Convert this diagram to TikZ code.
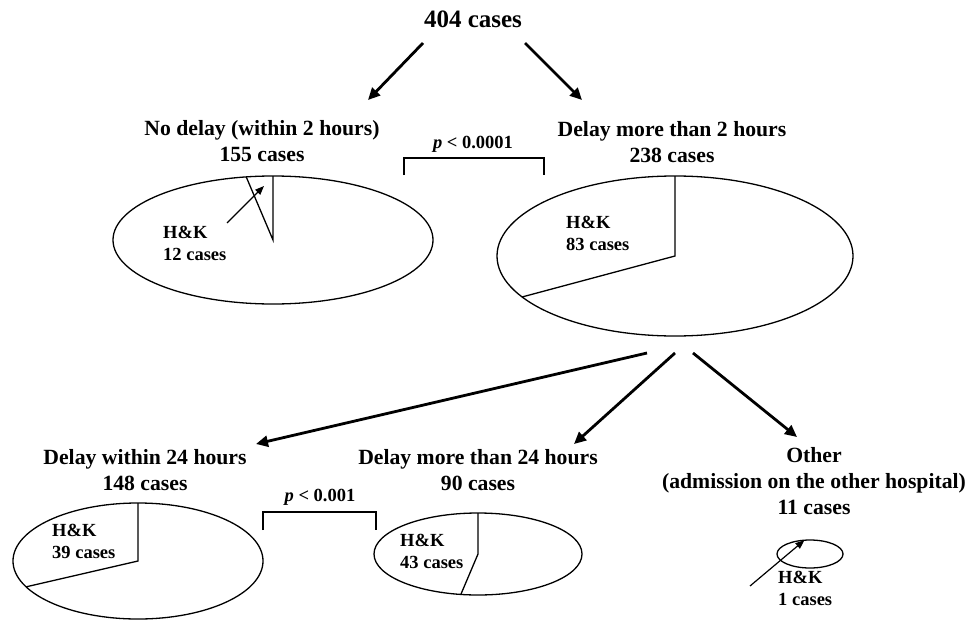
\documentclass[tikz,border=0pt]{standalone}
\usepackage{fontspec}
\setmainfont{Liberation Serif}
\usetikzlibrary{arrows.meta,shapes.geometric}

\tikzset{
  total/.style={font=\fontsize{25}{30}\selectfont\bfseries, inner sep=0pt},
  heading/.style={font=\fontsize{21.7}{26}\selectfont\bfseries, align=center, inner sep=0pt},
  hklabel/.style={font=\fontsize{18.5}{22}\selectfont\bfseries, align=left, anchor=north west, inner sep=0pt},
  plabel/.style={font=\fontsize{18.5}{22}\selectfont\bfseries, inner sep=0pt},
  pie/.style={draw, ellipse, line width=1.3pt, inner sep=0pt, outer sep=0pt},
  slice/.style={line width=1.3pt},
  flow/.style={line width=2.8pt, -{Triangle[length=12pt,width=11pt]}},
  pointer/.style={line width=1.2pt, -{Triangle[length=9pt,width=7pt]}},
  bracket/.style={line width=1.3pt}
}

\begin{document}
\begin{tikzpicture}[x=1pt, y=-1pt]
    \useasboundingbox (0,0) rectangle (973,623);

    % all cases
    \node[total] (root) at (473,19) {404 cases};

    % first split
    \node[heading] (nodelay) at (262,141) {No delay (within 2 hours)\\155 cases};
    \node[heading] (delay2) at (672,142) {Delay more than 2 hours\\238 cases};

    \coordinate (rootL) at (423,43);
    \coordinate (rootR) at (525,43);
    \coordinate (nodelayIn) at (368,100);
    \coordinate (delay2In) at (582,100);
    \draw[flow] (rootL) -- (nodelayIn);
    \draw[flow] (rootR) -- (delay2In);

    % pies of the first split
    \node[pie, minimum width=320pt, minimum height=128pt] (pienodelay) at (273,240) {};
    \draw[slice] (pienodelay.north) -- (pienodelay.center) -- (pienodelay.113);
    \node[hklabel] (hk12) at (163,226) {H\&K\\12 cases};
    \coordinate (hk12tail) at (227,223);
    \coordinate (hk12tip) at (264,186);
    \draw[pointer] (hk12tail) -- (hk12tip);

    \node[pie, minimum width=356pt, minimum height=160pt] (piedelay2) at (675,256) {};
    \draw[slice] (piedelay2.north) -- (piedelay2.center) -- (piedelay2.195);
    \node[hklabel] (hk83) at (566,216) {H\&K\\83 cases};

    % p value
    \coordinate (pA) at (404,175);
    \coordinate (pB) at (544,175);
    \draw[bracket] (pA) -- ++(0,-17) -| (pB);
    \node[plabel] (ptop) at (473,144) {\textit{p} < 0.0001};

    % second split
    \node[heading] (within24) at (145,470) {Delay within 24 hours\\148 cases};
    \node[heading] (more24) at (478,470) {Delay more than 24 hours\\90 cases};
    \node[heading] (other) at (814,481) {Other\\(admission on the other hospital)\\11 cases};

    \coordinate (delay2L) at (647,353);
    \coordinate (delay2M) at (675,353);
    \coordinate (delay2R) at (693,353);
    \coordinate (within24In) at (256,444);
    \coordinate (more24In) at (574,444);
    \coordinate (otherIn) at (797,437);
    \draw[flow] (delay2L) -- (within24In);
    \draw[flow] (delay2M) -- (more24In);
    \draw[flow] (delay2R) -- (otherIn);

    % pies of the second split
    \node[pie, minimum width=250pt, minimum height=116pt] (piewithin24) at (138,561) {};
    \draw[slice] (piewithin24.north) -- (piewithin24.center) -- (piewithin24.193);
    \node[hklabel] (hk39) at (52,524) {H\&K\\39 cases};

    \node[pie, minimum width=208pt, minimum height=82pt] (piemore24) at (478,554) {};
    \draw[slice] (piemore24.north) -- (piemore24.center) -- (piemore24.247);
    \node[hklabel] (hk43) at (400,534) {H\&K\\43 cases};

    \node[pie, minimum width=66pt, minimum height=28pt] (pieother) at (810,554) {};
    \node[hklabel] (hk1) at (778,571) {H\&K\\1 cases};
    \coordinate (hk1tail) at (750,586);
    \draw[pointer] (hk1tail) -- (pieother.112);

    % p value
    \coordinate (qA) at (263,530);
    \coordinate (qB) at (376,530);
    \draw[bracket] (qA) -- ++(0,-18) -| (qB);
    \node[plabel] (pbottom) at (320,497) {\textit{p} < 0.001};
\end{tikzpicture}
\end{document}
